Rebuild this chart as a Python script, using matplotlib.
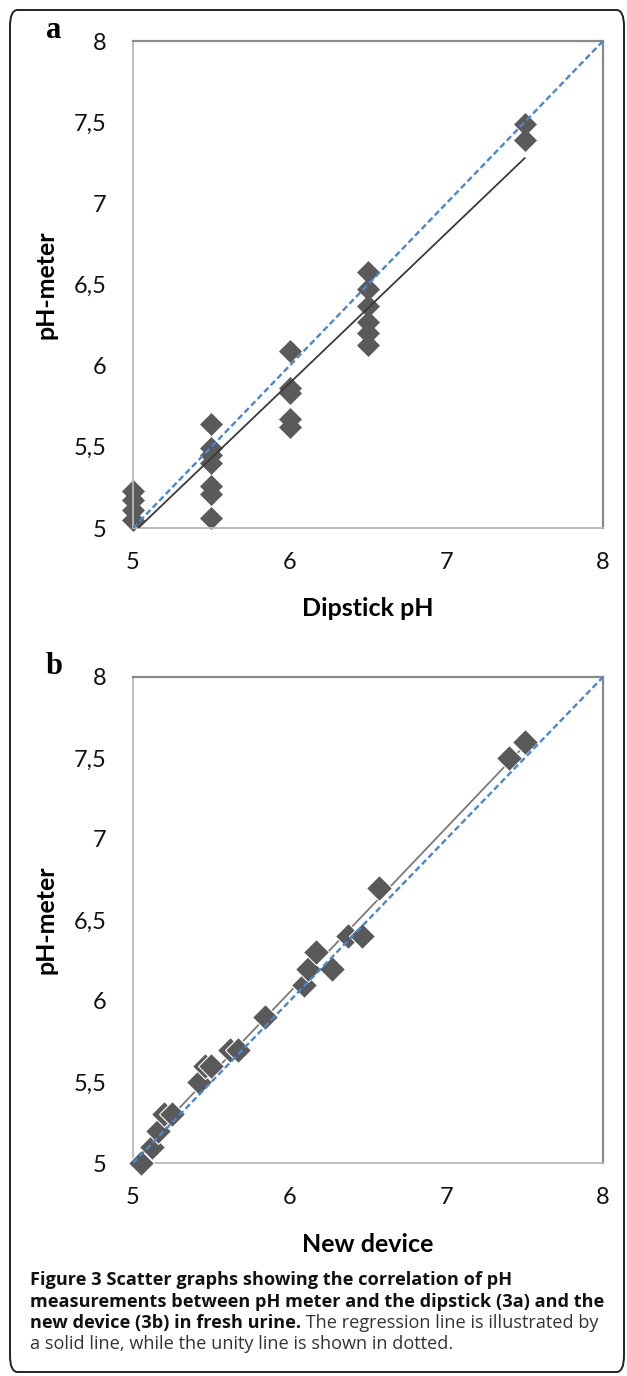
import numpy as np
import matplotlib
matplotlib.use("Agg")
import matplotlib.pyplot as plt
from matplotlib.patches import FancyBboxPatch

# ---------------- data ----------------
# Panel a: dipstick pH vs pH-meter
dip_x = [5.0, 5.0, 5.0, 5.0,
         5.5, 5.5, 5.5, 5.5, 5.5, 5.5, 5.5,
         6.0, 6.0, 6.0, 6.0, 6.0,
         6.5, 6.5, 6.5, 6.5, 6.5, 6.5,
         7.5, 7.5]
dip_y = [5.05, 5.11, 5.17, 5.23,
         5.06, 5.21, 5.26, 5.40, 5.45, 5.49, 5.64,
         5.62, 5.67, 5.83, 5.86, 6.09,
         6.13, 6.20, 6.27, 6.37, 6.47, 6.58,
         7.39, 7.49]

# Panel b: new device vs pH-meter
new_x = [5.05, 5.12, 5.16, 5.20, 5.25, 5.42, 5.46, 5.50, 5.62, 5.67,
         5.84, 6.09, 6.12, 6.17, 6.27, 6.37, 6.46, 6.57, 7.40, 7.50]
new_y = [5.00, 5.10, 5.20, 5.30, 5.30, 5.50, 5.60, 5.60, 5.70, 5.70,
         5.90, 6.10, 6.20, 6.30, 6.20, 6.40, 6.40, 6.70, 7.50, 7.60]

ticks = [5, 5.5, 6, 6.5, 7, 7.5, 8]
ytick_labels = ["5", "5,5", "6", "6,5", "7", "7,5", "8"]
xticks = [5, 6, 7, 8]
xtick_labels = ["5", "6", "7", "8"]

panel_letters = ["a", "b"]
x_titles = ["Dipstick pH", "New device"]
y_title = "pH-meter"

caption_lines = [
    [("Figure 3 Scatter graphs showing the correlation of pH", "bold")],
    [("measurements between pH meter and the dipstick (3a) and the", "bold")],
    [("new device (3b) in fresh urine.", "bold"),
     (" The regression line is illustrated by", "normal")],
    [("a solid line, while the unity line is shown in dotted.", "normal")],
]

# ---------------- figure ----------------
W, H = 627, 1376
fig = plt.figure(figsize=(W / 100, H / 100), dpi=100)

def fx(px):
    return px / W

def fy(py):
    return 1 - py / H

# outer rounded frame
frame = FancyBboxPatch((fx(10), fy(1372)), fx(614), (1362) / H,
                       boxstyle="round,pad=0,rounding_size=0.012",
                       transform=fig.transFigure, fill=False,
                       edgecolor="#222222", linewidth=1.4)
fig.patches.append(frame)

tick_font = dict(family="Lato", size=17)
label_font = dict(family="Lato", weight="bold", size=18)

panels = [
    dict(x=dip_x, y=dip_y, top=41, bottom=528, xlab_y=608, letter_y=31,
         reg_color="#3a3a3a", reg_range=(5.0, 7.5), white_edge=False),
    dict(x=new_x, y=new_y, top=677, bottom=1163, xlab_y=1245, letter_y=667,
         reg_color="#7a7a7a", reg_range=(min(new_x), max(new_x)), white_edge=True),
]

for i, p in enumerate(panels):
    left, right = 133, 603
    ax = fig.add_axes([fx(left), fy(p["bottom"]), (right - left) / W,
                       (p["bottom"] - p["top"]) / H])
    ax.set_xlim(5, 8)
    ax.set_ylim(5, 8)
    ax.set_xticks(xticks)
    ax.set_xticklabels(xtick_labels, **tick_font)
    ax.set_yticks(ticks)
    ax.set_yticklabels(ytick_labels, **tick_font)
    ax.tick_params(axis="y", length=0, pad=19, colors="#111111")
    ax.tick_params(axis="x", length=0, pad=17, colors="#111111")
    for s in ["top", "right"]:
        ax.spines[s].set_color("#8a8a8a")
        ax.spines[s].set_linewidth(1.6)
    for s in ["left", "bottom"]:
        ax.spines[s].set_color("#b8b8b8")
        ax.spines[s].set_linewidth(1.3)

    xs = np.array(p["x"])
    ys = np.array(p["y"])
    slope, intercept = np.polyfit(xs, ys, 1)
    rx = np.array(p["reg_range"])

    if p["white_edge"]:
        ax.plot(rx, slope * rx + intercept, color=p["reg_color"], lw=1.3, zorder=2)
        ax.plot(xs, ys, linestyle="none", marker="D", ms=13, mfc="#595959",
                mec="white", mew=0.8, clip_on=False, zorder=3)
        ax.plot([5, 8], [5, 8], color="#4a86d0", lw=1.7, dashes=(2.6, 1.4), zorder=4)
    else:
        ax.plot(xs, ys, linestyle="none", marker="D", ms=11, mfc="#5a5a5a",
                mec="#5a5a5a", mew=0.5, clip_on=False, zorder=2)
        ax.plot(rx, slope * rx + intercept, color=p["reg_color"], lw=1.3, zorder=3)
        ax.plot([5, 8], [5, 8], color="#4a86d0", lw=1.7, dashes=(2.6, 1.4), zorder=4)

    # labels
    fig.text(fx(368), fy(p["xlab_y"]), x_titles[i], ha="center", va="center",
             **label_font)
    fig.text(fx(46), fy((p["top"] + p["bottom"]) / 2), y_title, rotation=90,
             ha="center", va="center", **label_font)
    fig.text(fx(54), fy(p["letter_y"]), panel_letters[i], ha="center", va="center",
             family="Liberation Serif", weight="bold", size=22)

# caption with mixed bold / normal segments
fig.canvas.draw()
renderer = fig.canvas.get_renderer()
line_y = [1280, 1302, 1323, 1344]
for yy, segs in zip(line_y, caption_lines):
    xpos = 30
    for txt, wt in segs:
        t = fig.text(fx(xpos), fy(yy), txt, ha="left", va="center",
                     family="Open Sans", weight=wt, size=13.1,
                     color="#111111" if wt == "bold" else "#333333")
        bb = t.get_window_extent(renderer=renderer)
        xpos += bb.width

fig.savefig("out.png", dpi=100)
